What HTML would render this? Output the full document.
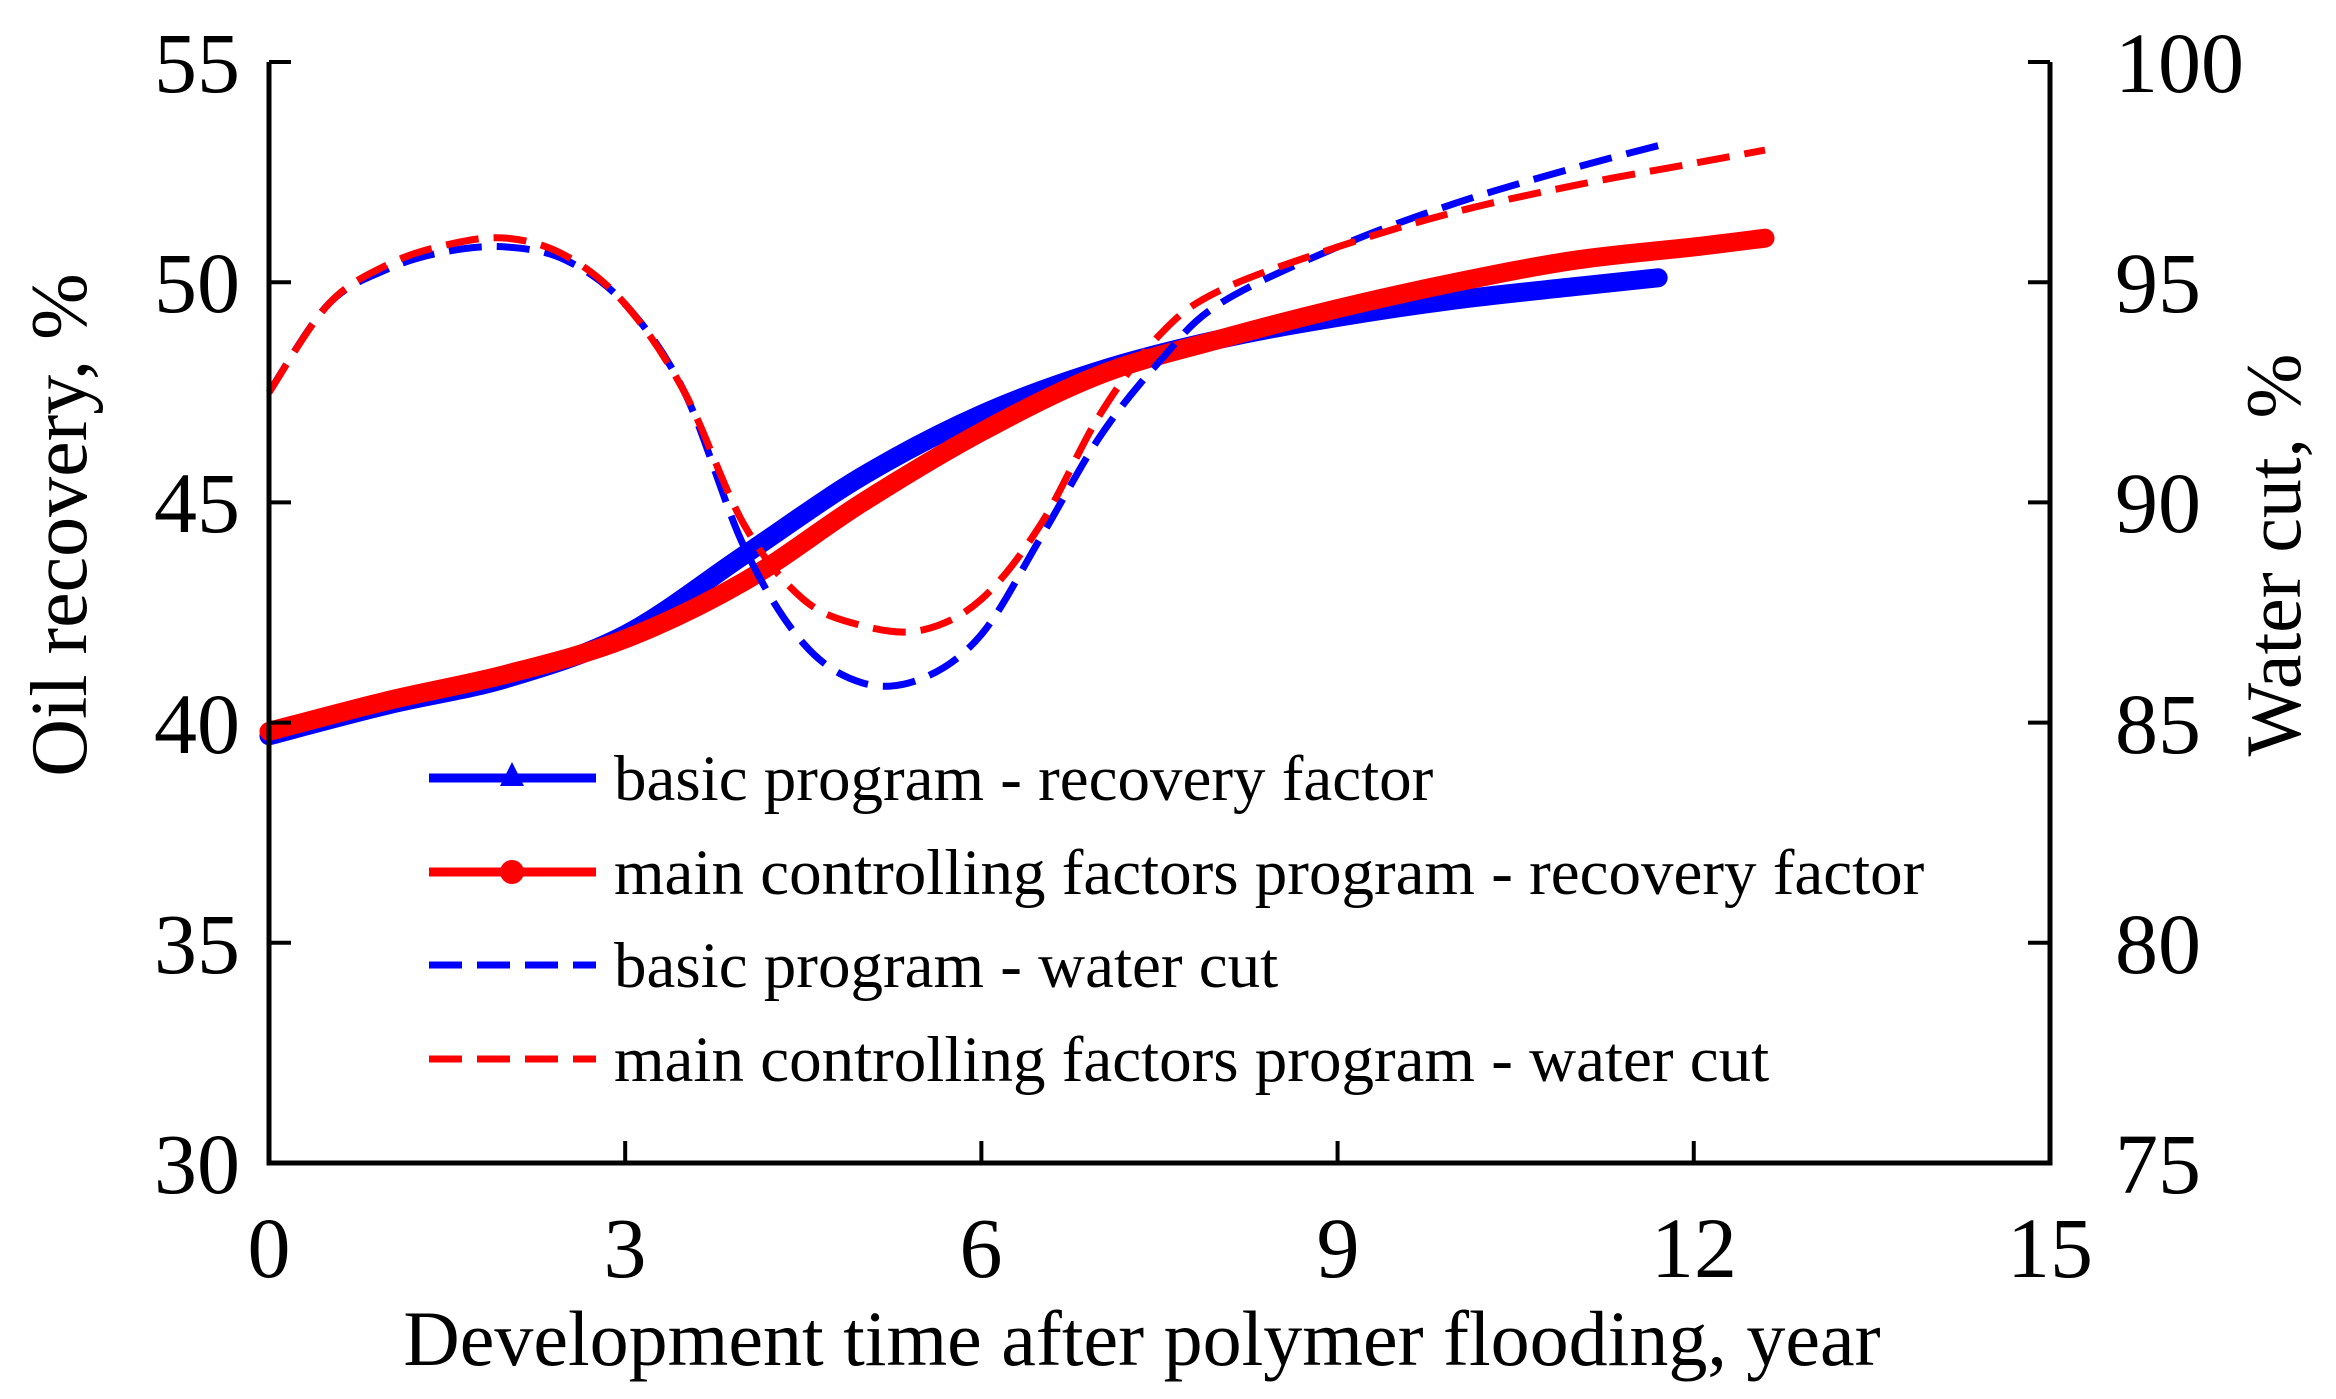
<!DOCTYPE html>
<html><head><meta charset="utf-8"><style>
html,body{margin:0;padding:0;background:#fff;}
svg{display:block;}
text{font-family:"Liberation Serif",serif;fill:#000;}
</style></head><body>
<svg id="c" width="2336" height="1399" xmlns="http://www.w3.org/2000/svg">
<g id="plot"></g>
<g stroke="#000" stroke-width="5" fill="none">
<path d="M269,62 L269,1163 L2050,1163 L2050,62"/>
</g>
<g stroke="#000" stroke-width="4" id="ticks"></g>
<g font-size="86" text-anchor="end">
<text x="240" y="92">55</text><text x="240" y="312">50</text><text x="240" y="532">45</text>
<text x="240" y="753">40</text><text x="240" y="973">35</text><text x="240" y="1193">30</text>
</g>
<g font-size="86" text-anchor="start">
<text x="2115" y="92">100</text><text x="2115" y="312">95</text><text x="2115" y="532">90</text>
<text x="2115" y="753">85</text><text x="2115" y="973">80</text><text x="2115" y="1193">75</text>
</g>
<g font-size="86" text-anchor="middle">
<text x="269" y="1277">0</text><text x="625" y="1277">3</text><text x="981" y="1277">6</text>
<text x="1338" y="1277">9</text><text x="1694" y="1277">12</text><text x="2050" y="1277">15</text>
</g>
<text x="1142" y="1365" font-size="78" text-anchor="middle">Development time after polymer flooding, year</text>
<text transform="translate(86,525) rotate(-90)" font-size="80" text-anchor="middle">Oil recovery, %</text>
<text transform="translate(2300,555) rotate(-90)" font-size="78" text-anchor="middle">Water cut, %</text>
<g id="legend">
<line x1="429" y1="778" x2="596" y2="778" stroke="#0000ff" stroke-width="9"/>
<polygon points="512,762 500,786 524,786" fill="#0000ff"/>
<line x1="429" y1="872" x2="596" y2="872" stroke="#ff0000" stroke-width="9"/>
<circle cx="512" cy="872" r="12" fill="#ff0000"/>
<line x1="429" y1="965" x2="596" y2="965" stroke="#0000ff" stroke-width="7" stroke-dasharray="33,15"/>
<line x1="429" y1="1059" x2="596" y2="1059" stroke="#ff0000" stroke-width="7" stroke-dasharray="33,15"/>
<g font-size="65">
<text x="614" y="800">basic program - recovery factor</text>
<text x="614" y="894">main controlling factors program - recovery factor</text>
<text x="614" y="987">basic program - water cut</text>
<text x="614" y="1081">main controlling factors program - water cut</text>
</g>
</g>
</svg>
<script>
var X=function(t){return 269+t*118.73;};
var YL=function(v){return 62+(55-v)*44.04;};
var YR=function(w){return 62+(100-w)*44.04;};
function path(pts,fy){
  var p=pts.map(function(a){return [X(a[0]),fy(a[1])];});
  var d="M"+p[0][0]+","+p[0][1];
  for(var i=0;i<p.length-1;i++){
    var p0=p[i-1]||p[i],p1=p[i],p2=p[i+1],p3=p[i+2]||p[i+1];
    var c1=[p1[0]+(p2[0]-p0[0])/6,p1[1]+(p2[1]-p0[1])/6];
    var c2=[p2[0]-(p3[0]-p1[0])/6,p2[1]-(p3[1]-p1[1])/6];
    d+=" C"+c1+" "+c2+" "+p2;
  }
  return d;
}
var br=[[0,39.7],[1,40.4],[2,41.0],[3,42.0],[4,43.8],[5,45.6],[6,47.0],[7,48.0],[8,48.7],[9,49.2],[10,49.6],[11,49.9],[11.7,50.1]];
var rr=[[0,39.8],[1,40.5],[2,41.1],[3,41.9],[4,43.2],[5,45.0],[6,46.6],[7,47.9],[8,48.7],[9,49.4],[10,50.0],[11,50.5],[12,50.8],[12.6,51.0]];
var bw=[[0,92.5],[0.5,94.5],[1,95.3],[1.5,95.7],[2,95.8],[2.5,95.5],[3,94.5],[3.5,92.5],[4,89],[4.5,86.8],[5,85.9],[5.5,86.0],[6,87.0],[6.5,89.2],[7,91.5],[7.5,93.2],[8,94.5],[9,95.8],[10,96.8],[11,97.6],[11.7,98.1]];
var rw=[[0,92.5],[0.5,94.5],[1,95.4],[1.5,95.85],[2,96.0],[2.5,95.6],[3,94.5],[3.5,92.5],[4,89.5],[4.5,87.8],[5,87.2],[5.5,87.1],[6,87.8],[6.5,89.5],[7,92],[7.5,93.8],[8,94.8],[9,95.8],[10,96.6],[11,97.2],[12,97.7],[12.6,98.0]];
var g=document.getElementById("plot"),s="";
s+='<path d="'+path(br,YL)+'" stroke="#0000ff" stroke-width="19" fill="none" stroke-linecap="round"/>';
s+='<path d="'+path(rr,YL)+'" stroke="#ff0000" stroke-width="19" fill="none" stroke-linecap="round"/>';
s+='<path d="'+path(bw,YR)+'" stroke="#0000ff" stroke-width="7" fill="none" stroke-dasharray="33,15"/>';
s+='<path d="'+path(rw,YR)+'" stroke="#ff0000" stroke-width="7" fill="none" stroke-dasharray="33,15"/>';
g.innerHTML=s;
var t="";
for(var i=0;i<=5;i++){var y=62+i*220.2;t+='<line x1="269" y1="'+y+'" x2="291" y2="'+y+'"/><line x1="2028" y1="'+y+'" x2="2050" y2="'+y+'"/>';}
for(var j=1;j<5;j++){var x=X(3*j);t+='<line x1="'+x+'" y1="1141" x2="'+x+'" y2="1163"/>';}
document.getElementById("ticks").innerHTML=t;
</script>
</body></html>
